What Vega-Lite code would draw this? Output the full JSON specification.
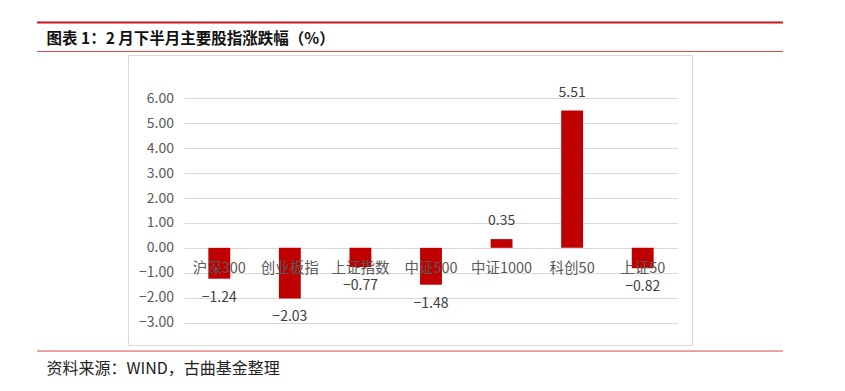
{
  "$schema": "https://vega.github.io/schema/vega-lite/v6.json",
  "width": 564,
  "height": 290,
  "autosize": {"type": "none"},
  "padding": {"left": 128, "top": 55, "right": 153, "bottom": 46},
  "background": "white",
  "config": {"view": {"stroke": "#d9d9d9", "strokeWidth": 1}, "font": "Noto Sans CJK SC",
    "axisY": {"title": null, "values": [-3, -2, -1, 0, 1, 2, 3, 4, 5, 6], "tickCount": 10, "format": ".2f", "domain": false, "ticks": false, "tickSize": 0, "labelPadding": -45.5, "labelFontSize": 14, "labelColor": "#595959", "labelFont": "Noto Sans CJK SC", "labelOverlap": false, "grid": true, "gridColor": "#d9d9d9", "gridWidth": 1}
  },
  "layer": [
    {
      "data": {"values": [
        {"name": "沪深300", "v": -1.24},
        {"name": "创业板指", "v": -2.03},
        {"name": "上证指数", "v": -0.77},
        {"name": "中证500", "v": -1.48},
        {"name": "中证1000", "v": 0.35},
        {"name": "科创50", "v": 5.51},
        {"name": "上证50", "v": -0.82}
      ]},
      "layer": [
        {
          "mark": {"type": "bar", "color": "#c00000"},
          "encoding": {
            "x": {"field": "name", "type": "nominal", "sort": null,
              "scale": {"range": [56, 550], "paddingInner": 0.69, "paddingOuter": 0.345},
              "axis": {"title": null, "orient": "bottom", "offset": -97, "domain": false, "ticks": false, "tickSize": 0, "labelPadding": 20, "labelBaseline": "middle", "labelAngle": 0, "labelFontSize": 14.5, "labelColor": "#595959", "labelFont": "Noto Sans CJK SC", "labelOverlap": false, "zindex": 1, "grid": false}},
            "y": {"field": "v", "type": "quantitative", "title": null,
              "scale": {"domain": [-3.9, 7.74], "nice": false, "zero": false},
              "axis": {"values": [-3, -2, -1, 0, 1, 2, 3, 4, 5, 6], "labelOverlap": false}}
          }
        },
        {
          "transform": [{"filter": "datum.v < 0"}],
          "mark": {"type": "text", "baseline": "middle", "dy": 19, "fontSize": 14, "color": "#404040"},
          "encoding": {
            "x": {"field": "name", "type": "nominal", "sort": null, "scale": {"range": [56, 550], "paddingInner": 0.69, "paddingOuter": 0.345}},
            "y": {"field": "v", "type": "quantitative", "title": null, "scale": {"domain": [-3.9, 7.74], "nice": false, "zero": false}, "axis": {"values": [-3, -2, -1, 0, 1, 2, 3, 4, 5, 6], "labelOverlap": false}},
            "text": {"field": "v", "type": "quantitative", "format": ".2f"}
          }
        },
        {
          "transform": [{"filter": "datum.v >= 0"}],
          "mark": {"type": "text", "baseline": "middle", "dy": -18, "fontSize": 14, "color": "#404040"},
          "encoding": {
            "x": {"field": "name", "type": "nominal", "sort": null, "scale": {"range": [56, 550], "paddingInner": 0.69, "paddingOuter": 0.345}},
            "y": {"field": "v", "type": "quantitative", "title": null, "scale": {"domain": [-3.9, 7.74], "nice": false, "zero": false}, "axis": {"values": [-3, -2, -1, 0, 1, 2, 3, 4, 5, 6], "labelOverlap": false}},
            "text": {"field": "v", "type": "quantitative", "format": ".2f"}
          }
        }
      ]
    },
    {
      "data": {"values": [{}]},
      "layer": [
        {
          "mark": {"type": "rule", "color": "#c8161d", "strokeWidth": 2},
          "encoding": {
            "x": {"datum": -0.1613, "type": "quantitative", "scale": {"domain": [0, 1], "nice": false, "zero": false}, "axis": null},
            "x2": {"datum": 1.1613},
            "y": {"datum": 9.045, "type": "quantitative", "title": null, "scale": {"domain": [-3.9, 7.74], "nice": false, "zero": false}, "axis": {"values": [-3, -2, -1, 0, 1, 2, 3, 4, 5, 6], "labelOverlap": false}}
          }
        },
        {
          "mark": {"type": "rule", "color": "#e0474c", "strokeWidth": 1},
          "encoding": {
            "x": {"datum": -0.1613, "type": "quantitative", "scale": {"domain": [0, 1], "nice": false, "zero": false}, "axis": null},
            "x2": {"datum": 1.1613},
            "y": {"datum": 7.88, "type": "quantitative", "title": null, "scale": {"domain": [-3.9, 7.74], "nice": false, "zero": false}, "axis": {"values": [-3, -2, -1, 0, 1, 2, 3, 4, 5, 6], "labelOverlap": false}}
          }
        },
        {
          "mark": {"type": "rule", "color": "#e0474c", "strokeWidth": 1},
          "encoding": {
            "x": {"datum": -0.1613, "type": "quantitative", "scale": {"domain": [0, 1], "nice": false, "zero": false}, "axis": null},
            "x2": {"datum": 1.1613},
            "y": {"datum": -4.143, "type": "quantitative", "title": null, "scale": {"domain": [-3.9, 7.74], "nice": false, "zero": false}, "axis": {"values": [-3, -2, -1, 0, 1, 2, 3, 4, 5, 6], "labelOverlap": false}}
          }
        },
        {
          "mark": {"type": "text", "text": "图表 1：2 月下半月主要股指涨跌幅（%）", "align": "left", "baseline": "middle", "fontSize": 15.5, "fontWeight": "bold", "color": "#111111"},
          "encoding": {
            "x": {"datum": -0.1445, "type": "quantitative", "scale": {"domain": [0, 1], "nice": false, "zero": false}, "axis": null},
            "y": {"datum": 8.40, "type": "quantitative", "title": null, "scale": {"domain": [-3.9, 7.74], "nice": false, "zero": false}, "axis": {"values": [-3, -2, -1, 0, 1, 2, 3, 4, 5, 6], "labelOverlap": false}}
          }
        },
        {
          "mark": {"type": "text", "text": "资料来源：WIND，古曲基金整理", "align": "left", "baseline": "middle", "fontSize": 16, "color": "#222222"},
          "encoding": {
            "x": {"datum": -0.1445, "type": "quantitative", "scale": {"domain": [0, 1], "nice": false, "zero": false}, "axis": null},
            "y": {"datum": -4.845, "type": "quantitative", "title": null, "scale": {"domain": [-3.9, 7.74], "nice": false, "zero": false}, "axis": {"values": [-3, -2, -1, 0, 1, 2, 3, 4, 5, 6], "labelOverlap": false}}
          }
        }
      ]
    }
  ],
  "resolve": {"scale": {"x": "independent"}, "axis": {"x": "independent"}}
}
